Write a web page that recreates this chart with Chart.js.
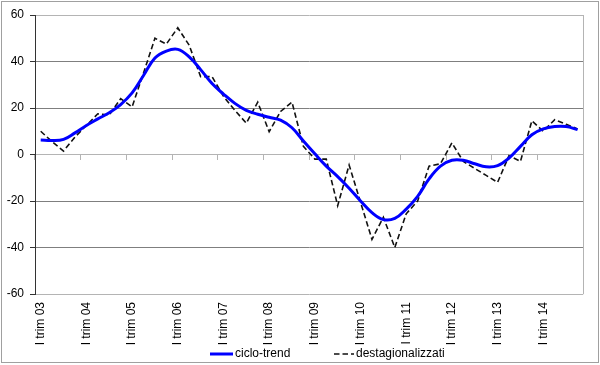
<!DOCTYPE html>
<html>
<head>
<meta charset="utf-8">
<script src="https://cdn.jsdelivr.net/npm/chart.js@4.4.1/dist/chart.umd.min.js"></script>
<style>
  body { margin: 0; background: #fff; }
</style>
</head>
<body>
<canvas id="myChart" width="600" height="365"></canvas>
<script>
const years = ['03', '04', '05', '06', '07', '08', '09', '10', '11', '12', '13', '14'];
const quarters = ['I', 'II', 'III', 'IV'];
const labels = [];
years.forEach(y => quarters.forEach(q => labels.push(q + ' trim ' + y)));

const cicloTrend = [
  6.2, 6, 6.5, 9.3, 12.5, 15.3, 18, 21.5,
  26.5, 34, 41.5, 44.5, 45.2, 42, 36.5, 30.5,
  26, 22, 19, 17.3, 16, 14.8, 11.5, 5.8,
  0.3, -5, -9.5, -14.5, -20, -25, -28, -27.5,
  -23.5, -18, -10.5, -5, -2.5, -2.5, -4, -5.3,
  -4.8, -1.5, 3.5, 8.5, 11, 12, 12, 10.7
];
const destagionalizzati = [
  10, 5.5, 1.5, 7.5, 12.5, 17.5, 17, 24,
  20.5, 35, 50, 47.5, 54.5, 47, 33.5, 33.5,
  25, 19, 13.5, 22.5, 9.8, 18.5, 22.5, 3.5,
  -2, -2, -22, -4.5, -20.5, -36.5, -27, -40,
  -25.5, -20, -5, -4, 5, -3, -6, -9,
  -12, -0.5, -3, 14.5, 10, 15, 13, 11
];
const yTicks = [-60, -40, -20, 0, 20, 40, 60];

const lightGray = '#b4b4b4';
const gridGray = '#7f7f7f';

Chart.defaults.font.family = "'Liberation Sans', Arial, sans-serif";
Chart.defaults.font.size = 12;
Chart.defaults.color = '#000';

// outer border, plot frame and legend
const frame = {
  id: 'frame',
  beforeDraw(chart) {
    const c = chart.ctx;
    c.save();
    c.strokeStyle = '#a0a0a0';
    c.lineWidth = 1;
    c.strokeRect(1.5, 1.5, chart.width - 3, chart.height - 4);
    c.restore();
  },
  beforeDatasetsDraw(chart) {
    const a = chart.chartArea;
    const c = chart.ctx;
    c.save();
    c.strokeStyle = lightGray;
    c.lineWidth = 1;
    c.beginPath();
    c.moveTo(Math.round(a.right) + 0.5, a.top);
    c.lineTo(Math.round(a.right) + 0.5, a.bottom);
    c.stroke();
    c.restore();
  },
  afterDraw(chart) {
    const c = chart.ctx;
    const items = [[210, 233], [334, 354]];
    const y = 354;
    c.save();
    chart.data.datasets.forEach((ds, i) => {
      const [x1, x2] = items[i];
      c.strokeStyle = ds.borderColor;
      c.lineWidth = ds.borderWidth;
      c.setLineDash(ds.borderDash || []);
      c.beginPath();
      c.moveTo(x1, y);
      c.lineTo(x2, y);
      c.stroke();
      c.setLineDash([]);
      c.fillStyle = '#000';
      c.font = "12px 'Liberation Sans', Arial, sans-serif";
      c.textBaseline = 'middle';
      c.fillText(ds.label, x2 + 2, y);
    });
    c.restore();
  }
};

let ctx = document.querySelector('#myChart');

let grafico = new Chart(ctx, {
  type: 'line',
  data: {
    labels: labels,
    datasets: [
      {
        label: 'ciclo-trend',
        data: cicloTrend,
        borderColor: '#0000ff',
        borderWidth: 3,
        tension: 0.4,
        pointRadius: 0,
        fill: false,
      },
      {
        label: 'destagionalizzati',
        data: destagionalizzati,
        borderColor: '#111',
        borderWidth: 1.6,
        borderDash: [5.5, 3],
        tension: 0,
        pointRadius: 0,
        fill: false,
      },
    ],
  },
  options: {
    responsive: false,
    animation: false,
    layout: { padding: { top: 15, right: 5, left: 0, bottom: 0 } },
    plugins: {
      legend: { display: false },
      tooltip: { enabled: false },
    },
    scales: {
      x: {
        type: 'category',
        position: 'bottom',
        offset: true,
        afterFit: s => { s.height = 71; },
        grid: { display: false, drawTicks: false },
        border: { display: false },
        ticks: {
          autoSkip: false,
          minRotation: 90,
          maxRotation: 90,
          padding: 8,
          callback: (v, i) => (i % 4 === 0 ? labels[i] : ''),
        },
      },
      x2: {
        type: 'category',
        position: { y: 0 },
        offset: true,
        afterFit: s => { s.height = 0; },
        grid: {
          offset: true,
          drawOnChartArea: false,
          tickLength: 5,
          tickColor: c => (c.index % 4 === 0 ? lightGray : 'transparent'),
        },
        border: { display: true, color: lightGray },
        ticks: { display: false },
      },
      y: {
        min: yTicks[0],
        max: yTicks[yTicks.length - 1],
        afterFit: s => { s.width = 35; },
        afterBuildTicks: s => { s.ticks = yTicks.map(v => ({ value: v })); },
        grid: {
          color: c => {
            const v = c.tick && c.tick.value;
            return (v === 0 || v === 60 || v === -60) ? lightGray : gridGray;
          },
          tickColor: '#333',
          tickLength: 5,
        },
        border: { display: true, color: '#333' },
        ticks: { padding: 6 },
      },
    },
  },
  plugins: [frame],
});
</script>
</body>
</html>
